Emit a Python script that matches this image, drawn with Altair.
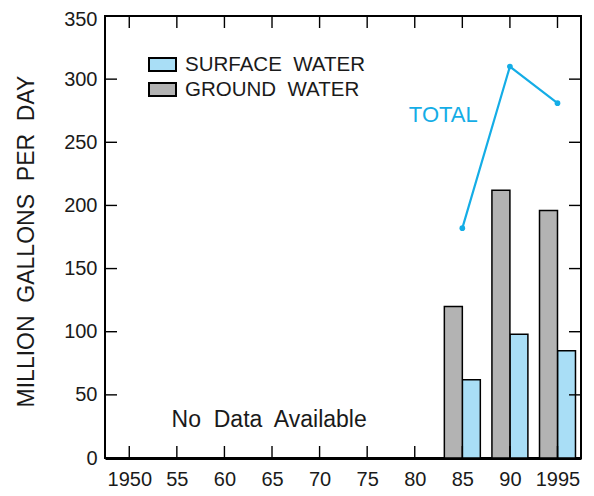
import altair as alt
import pandas as pd

# ---- data ----
years = [1985, 1990, 1995]
surface = [62, 98, 85]
ground = [120, 212, 196]
total = [182, 310, 281]

tick_years = [1950, 1955, 1960, 1965, 1970, 1975, 1980, 1985, 1990, 1995]
tick_labels = ["1950", "55", "60", "65", "70", "75", "80", "85", "90", "1995"]
y_ticks = [0, 50, 100, 150, 200, 250, 300, 350]
y_inner_ticks = [50, 100, 150, 200, 250, 300]

SW = "SURFACE\u00a0 WATER"
GW = "GROUND\u00a0 WATER"
series_names = [SW, GW]
series_colors = ["#a9def6", "#b3b3b3"]

annotations = ["No\u00a0 Data\u00a0 Available", "TOTAL"]
annot_year = [1964.7, 1983.0]
annot_value = [29.7, 271.8]
annot_colors = ["#1a1a1a", "#14ade6"]

# ---- tables ----
bars = pd.DataFrame(
    {"year": years * 2, "type": [SW] * 3 + [GW] * 3, "value": surface + ground}
)
tot = pd.DataFrame({"year": years, "total": total})
yt = pd.DataFrame({"v": y_inner_ticks})
xt = pd.DataFrame({"year": tick_years})
ann = pd.DataFrame({"label": annotations, "year": annot_year, "value": annot_value, "c": annot_colors})

W, H = 476, 442
BW = 1.89  # bar width in years
TL = 12    # inward tick length
FONT = "Liberation Sans"
YTITLE = "MILLION\u00a0 GALLONS\u00a0 PER\u00a0 DAY"

xs = alt.Scale(domain=[1947.45, 1997.47], nice=False, zero=False)
ys = alt.Scale(domain=[0, 350], nice=False)

label_expr = (
    "[" + ",".join(f"'{l}'" for l in tick_labels) + "][indexof(["
    + ",".join(str(y) for y in tick_years) + "], datum.value)]"
)

xaxis = alt.Axis(
    values=tick_years, labelExpr=label_expr, ticks=False, tickSize=0,
    domain=True, domainColor="black", domainWidth=3, labelPadding=11,
    labelFontSize=20, labelFont=FONT, labelColor="#1a1a1a", grid=False, title=None,
)
yaxis = alt.Axis(
    values=y_ticks, ticks=False, tickSize=0, domain=False, labelPadding=8,
    labelFontSize=20, labelFont=FONT, labelColor="#1a1a1a", grid=False,
    labelOffset={"expr": f"datum.value == {max(y_ticks)} ? 3 : 0"},
    title=YTITLE, titleFontSize=23, titleFont=FONT,
    titleFontWeight="normal", titleColor="#1a1a1a", titleAngle=-90,
    titleX=-72, titleY=225, titleAlign="center", titleBaseline="alphabetic",
)


def X(field):
    return alt.X(field, scale=xs, axis=xaxis, title=None)


def Y(field):
    return alt.Y(field, scale=ys, axis=yaxis, title=YTITLE)


bar_layer = (
    alt.Chart(bars)
    .transform_calculate(
        x0=f"datum.type == '{GW}' ? datum.year - {BW} : datum.year",
    )
    .transform_calculate(x1=f"datum.x0 + {BW}")
    .mark_rect(stroke="black", strokeWidth=1.5)
    .encode(
        x=X("x0:Q"),
        x2="x1:Q",
        y=Y("value:Q"),
        y2=alt.datum(0),
        color=alt.Color(
            "type:N",
            scale=alt.Scale(domain=series_names, range=series_colors),
            legend=alt.Legend(
                title=None, orient="none", legendX=43, legendY=34, padding=0,
                symbolType="M-1,-0.48L1,-0.48L1,0.48L-1,0.48Z", symbolSize=729,
                symbolStrokeColor="black", symbolStrokeWidth=2, labelOffset=8,
                labelFontSize=20.5, labelFont=FONT, labelColor="#1a1a1a",
                rowPadding=0, labelLimit=400,
            ),
        ),
    )
)

left_ticks = alt.Chart(yt).mark_rule(color="black", strokeWidth=1.4).encode(
    y=Y("v:Q"), x=alt.value(0), x2=alt.value(TL)
)
right_ticks = alt.Chart(yt).mark_rule(color="black", strokeWidth=1.4).encode(
    y=Y("v:Q"), x=alt.value(W - TL), x2=alt.value(W)
)
top_ticks = alt.Chart(xt).mark_rule(color="black", strokeWidth=1.4).encode(
    x=X("year:Q"), y=alt.value(0), y2=alt.value(TL)
)
bottom_ticks = alt.Chart(xt).mark_rule(color="black", strokeWidth=1.4).encode(
    x=X("year:Q"), y=alt.value(H - TL), y2=alt.value(H)
)

line_layer = alt.Chart(tot).mark_line(
    color="#14ade6", strokeWidth=2.2,
    point=alt.OverlayMarkDef(filled=True, size=32, color="#14ade6"),
).encode(
    x=X("year:Q"),
    y=Y("total:Q"),
)

text_layer = alt.Chart(ann).mark_text(
    font=FONT, align="center", baseline="middle"
).encode(
    x=X("year:Q"),
    y=Y("value:Q"),
    text="label:N",
    color=alt.Color("c:N", scale=None),
    size=alt.condition("datum.label == 'TOTAL'", alt.value(22), alt.value(23)),
)

chart = (
    alt.layer(bar_layer, left_ticks, right_ticks, top_ticks, bottom_ticks, line_layer, text_layer)
    .properties(
        width=W, height=H, autosize="none",
        padding={"left": 97, "top": 8, "right": 5, "bottom": 30},
        background="white",
    )
    .configure_view(stroke="black", strokeWidth=2)
)

chart.save("out.html", embed_options={"renderer": "svg", "actions": False})
